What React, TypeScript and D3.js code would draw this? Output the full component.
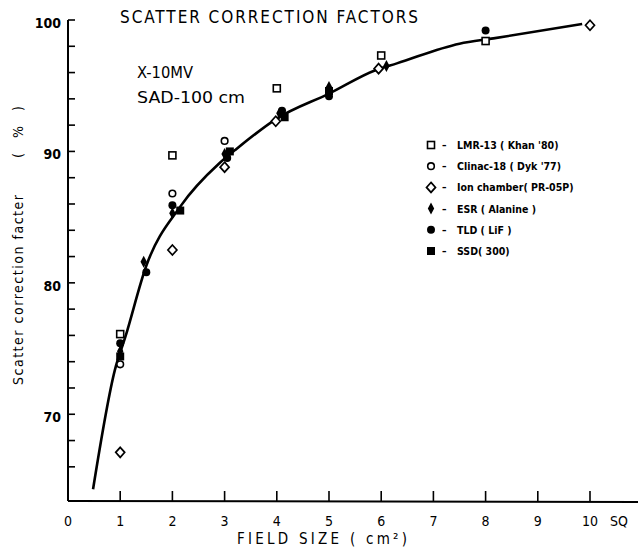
import React from "react";
import * as d3 from "d3";

// field size (cm^2 side, SQ) vs scatter correction factor (%)
const lmr13 = [[1, 76.1], [2, 89.7], [4, 94.8], [6, 97.3], [8, 98.4]];
const clinac = [[1, 73.8], [2, 86.8], [3, 90.8]];
const ionChamber = [[1, 67.1], [2, 82.5], [3, 88.8], [3.98, 92.3], [5.95, 96.3], [10, 99.6]];
const esr = [[1, 74.8], [1.45, 81.6], [2, 85.3], [3, 89.8], [4.05, 92.9], [5, 94.9], [6.1, 96.5]];
const tld = [[1, 75.4], [1.5, 80.8], [2, 85.9], [3.05, 89.5], [4.1, 93.1], [5, 94.2], [8, 99.2]];
const ssd = [[1, 74.4], [2.15, 85.5], [3.1, 90.0], [4.15, 92.6], [5, 94.6]];

const fitCurve = [[0.48, 64.3], [0.9, 73.4], [1.1, 75.9], [1.5, 81.3], [2.15, 85.8], [2.9, 89.1],
  [3.2, 90.1], [4, 92.5], [5, 94.4], [5.9, 96.2], [6.3, 96.7], [7.5, 98.2], [8.15, 98.6], [9.85, 99.7]];

const xTicks = [0, 1, 2, 3, 4, 5, 6, 7, 8, 9, 10];
const yTicks = [66, 68, 70, 72, 74, 76, 78, 80, 82, 84, 86, 88, 90, 92, 94, 96, 98, 100];
const yLabels = [70, 80, 90, 100];

const legendNames = ["LMR-13 ( Khan '80)", "Clinac-18 ( Dyk '77)", "Ion chamber( PR-05P)",
  "ESR ( Alanine )", "TLD ( LiF )", "SSD( 300)"];

const font = "'Liberation Sans Narrow', 'DejaVu Sans Condensed', 'DejaVu Sans', sans-serif";

function Marker({ kind, cx, cy }: { kind: number; cx: number; cy: number }) {
  if (kind === 0) return <rect x={cx - 3.5} y={cy - 3.5} width={7} height={7} fill="white" stroke="black" strokeWidth={1.6} />;
  if (kind === 1) return <circle cx={cx} cy={cy} r={3.3} fill="white" stroke="black" strokeWidth={1.6} />;
  if (kind === 2) return <path d={`M${cx},${cy - 5}L${cx + 4.5},${cy}L${cx},${cy + 5}L${cx - 4.5},${cy}Z`} fill="white" stroke="black" strokeWidth={1.7} />;
  if (kind === 3) return <path d={`M${cx},${cy - 6}L${cx + 3.2},${cy}L${cx},${cy + 6}L${cx - 3.2},${cy}Z`} fill="black" />;
  if (kind === 4) return <circle cx={cx} cy={cy} r={4} fill="black" />;
  return <rect x={cx - 4} y={cy - 4} width={8} height={8} fill="black" />;
}

export default function App() {
  const x = d3.scaleLinear().domain([0, 10]).range([68, 590]);
  const y = d3.scaleLinear().domain([63.4, 100]).range([501, 20]);
  const line = d3.line<number[]>().x(d => x(d[0])).y(d => y(d[1])).curve(d3.curveMonotoneX);
  const series = [lmr13, clinac, ionChamber, esr, tld, ssd];
  const legendY = d3.scalePoint<number>().domain([0, 1, 2, 3, 4, 5]).range([145, 251]);

  return (
    <svg width={638} height={549} style={{ position: "absolute", left: 0, top: 0, background: "white" }} fontFamily={font}>
      {/* axes */}
      <line x1={x(0)} y1={y(100)} x2={x(0)} y2={y(63.4)} stroke="black" strokeWidth={2} />
      <line x1={x(0)} y1={y(63.4)} x2={638} y2={y(63.4) + 1} stroke="black" strokeWidth={2} />
      {yTicks.map(t => (
        <line key={t} x1={x(0)} x2={x(0) + 7} y1={y(t)} y2={y(t)} stroke="black" strokeWidth={1.6} />
      ))}
      {xTicks.slice(1).map(t => (
        <line key={t} x1={x(t)} x2={x(t)} y1={y(63.4)} y2={y(63.4) - 10} stroke="black" strokeWidth={1.6} />
      ))}
      {yLabels.map(t => (
        <text key={t} x={61} y={y(t) + 8} textAnchor="end" fontSize={14} fontWeight="bold">{t}</text>
      ))}
      {xTicks.map(t => (
        <text key={t} x={x(t)} y={526} textAnchor="middle" fontSize={14}>{t}</text>
      ))}
      <text x={610} y={526} fontSize={14}>SQ</text>

      {/* titles */}
      <text x={120} y={23} fontSize={17} textLength={298} lengthAdjust="spacing">SCATTER  CORRECTION  FACTORS</text>
      <text x={137} y={78} fontSize={16} textLength={56} lengthAdjust="spacingAndGlyphs">X-10MV</text>
      <text x={137} y={103} fontSize={16} textLength={108} lengthAdjust="spacingAndGlyphs">SAD-100 cm</text>
      <text x={237} y={544} fontSize={15} textLength={170} lengthAdjust="spacing">FIELD  SIZE  ( cm²)</text>
      <text transform="translate(23,385) rotate(-90)" fontSize={14} textLength={190} lengthAdjust="spacing">Scatter correction facter</text>
      <text transform="translate(23,158) rotate(-90)" fontSize={14} textLength={52} lengthAdjust="spacing">( % )</text>

      {/* fitted curve */}
      <path d={line(fitCurve) || ""} fill="none" stroke="black" strokeWidth={2.6} />

      {/* data points */}
      {series.map((s, k) => (
        <g key={k}>
          {s.map((d, i) => <Marker key={i} kind={k} cx={x(d[0])} cy={y(d[1])} />)}
        </g>
      ))}

      {/* legend */}
      {legendNames.map((name, k) => (
        <g key={name}>
          <Marker kind={k} cx={431} cy={legendY(k)!} />
          <text x={442} y={legendY(k)! + 4} fontSize={10} fontWeight="bold">–</text>
          <text x={457} y={legendY(k)! + 4} fontSize={10.5} fontWeight="bold">{name}</text>
        </g>
      ))}
    </svg>
  );
}
